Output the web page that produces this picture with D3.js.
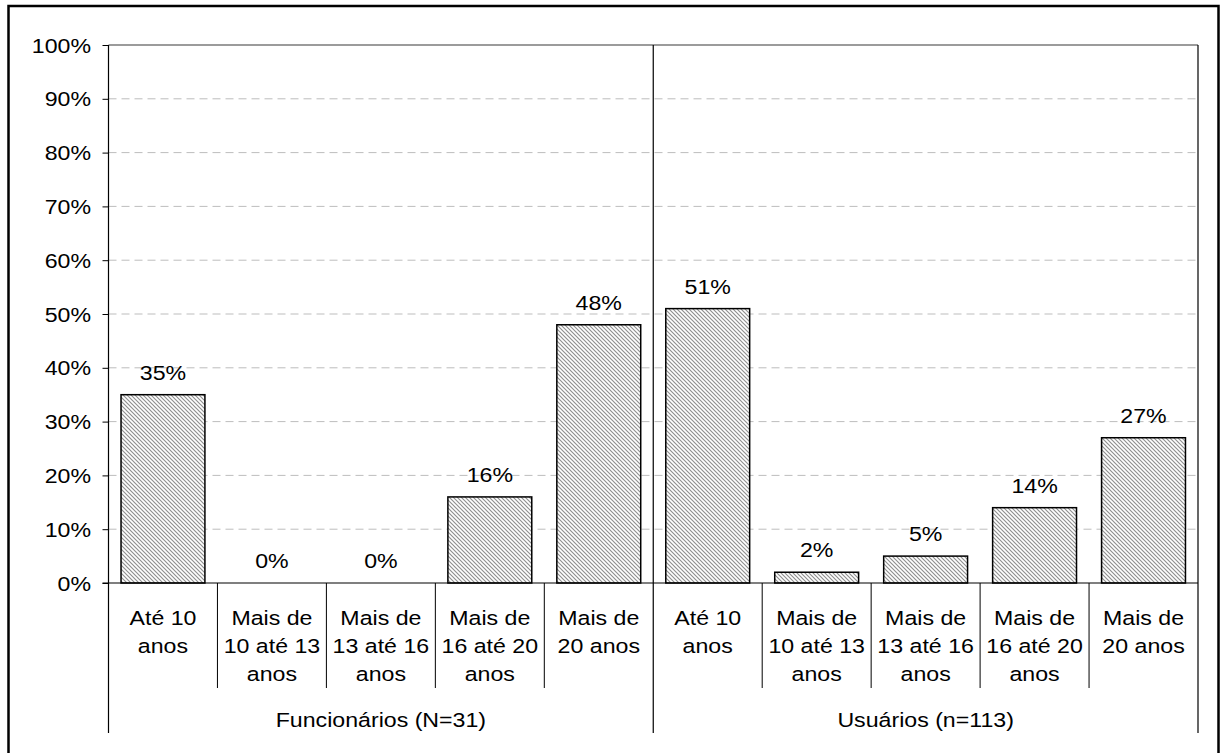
<!DOCTYPE html>
<html>
<head>
<meta charset="utf-8">
<script src="https://cdn.jsdelivr.net/npm/d3@7"></script>
<style>
  html, body { margin: 0; padding: 0; background: #fff; }
  svg { display: block; }
  text { font-family: "Liberation Sans", Arial, sans-serif; fill: #000; }
</style>
</head>
<body>
<svg id="chart" width="1220" height="753"></svg>
<script>
// Tempo de serviço, percentual por faixa, para cada grupo
const groups = ["Funcionários (N=31)", "Usuários (n=113)"];
const categoryLines = [
  ["Até 10", "anos"],
  ["Mais de", "10 até 13", "anos"],
  ["Mais de", "13 até 16", "anos"],
  ["Mais de", "16 até 20", "anos"],
  ["Mais de", "20 anos"]
];
const funcionarios = [35, 0, 0, 16, 48];
const usuarios = [51, 2, 5, 14, 27];
const yTicks = [0, 10, 20, 30, 40, 50, 60, 70, 80, 90, 100];

// flatten into one row per bar
const rows = [];
[funcionarios, usuarios].forEach((vals, g) => {
  vals.forEach((v, i) => rows.push({ key: g + "-" + i, group: g, cat: i, value: v }));
});

const svg = d3.select("#chart");
const plotL = 108.5, plotR = 1198, plotT = 45, plotB = 583;
const fs = 20.5;  // label font size
const sx = 1.13;  // horizontal text stretch

const x = d3.scaleBand().domain(rows.map(d => d.key)).range([plotL, plotR]).paddingInner(0.23).paddingOuter(0.115);
const bandStep = (plotR - plotL) / rows.length;
const y = d3.scaleLinear().domain([0, 100]).range([plotB, plotT]);

// hatch fill
const defs = svg.append("defs");
const pat = defs.append("pattern").attr("id", "hatch").attr("patternUnits", "userSpaceOnUse")
  .attr("width", 4).attr("height", 4);
pat.append("rect").attr("width", 4).attr("height", 4).attr("fill", "#fff");
pat.append("path").attr("d", "M-1,-1 L5,5 M-1,3 L1,5 M3,-1 L5,1")
  .attr("stroke", "#8f8f8f").attr("stroke-width", 1.15);

// outer frame
svg.append("rect").attr("x", 8.5).attr("y", 6).attr("width", 1210).attr("height", 800)
  .attr("fill", "none").attr("stroke", "#000").attr("stroke-width", 2.5);

// gridlines
svg.append("g").selectAll("line").data(yTicks.filter(t => t > 0 && t < 100)).join("line")
  .attr("x1", plotL).attr("x2", plotR).attr("y1", d => y(d)).attr("y2", d => y(d))
  .attr("stroke", "#bdbdbd").attr("stroke-width", 1).attr("stroke-dasharray", "8,5");

// plot border top
svg.append("line").attr("x1", plotL).attr("x2", plotR).attr("y1", y(100)).attr("y2", y(100))
  .attr("stroke", "#7a7a7a").attr("stroke-width", 1.5);

// y axis
const yAxis = d3.axisLeft(y).tickValues(yTicks).tickFormat(d => d + "%").tickSize(6).tickPadding(0);
const ya = svg.append("g").attr("transform", `translate(${plotL},0)`).call(yAxis);
ya.select(".domain").remove();
ya.selectAll(".tick line").attr("stroke", "#000");
ya.selectAll(".tick text").remove();
svg.append("g").selectAll("text").data(yTicks).join("text")
  .attr("transform", d => `translate(91,${y(d) + 7.5}) scale(${sx},1)`)
  .attr("text-anchor", "end").attr("font-size", fs).text(d => d + "%");

// bars
svg.append("g").selectAll("rect").data(rows.filter(d => d.value > 0)).join("rect")
  .attr("x", d => x(d.key)).attr("width", x.bandwidth())
  .attr("y", d => y(d.value)).attr("height", d => y(0) - y(d.value))
  .attr("fill", "url(#hatch)").attr("stroke", "#000").attr("stroke-width", 1.5);

// value labels
svg.append("g").selectAll("text").data(rows).join("text")
  .attr("transform", d => `translate(${x(d.key) + x.bandwidth() / 2},${y(d.value) - 15}) scale(${sx},1)`)
  .attr("text-anchor", "middle").attr("font-size", fs).text(d => d.value + "%");

// x axis baseline
svg.append("line").attr("x1", plotL - 6).attr("x2", plotR).attr("y1", plotB).attr("y2", plotB)
  .attr("stroke", "#000").attr("stroke-width", 1.2);

// category separators
const inner = d3.range(1, rows.length).filter(i => i !== 5).map(i => plotL + i * bandStep);
svg.append("g").selectAll("line").data(inner).join("line")
  .attr("x1", d => d).attr("x2", d => d).attr("y1", plotB).attr("y2", 688)
  .attr("stroke", "#000").attr("stroke-width", 1);

// group separators (full height)
const outerX = [plotL, plotL + 5 * bandStep, plotR];
svg.append("g").selectAll("line").data(outerX).join("line")
  .attr("x1", d => d).attr("x2", d => d).attr("y1", plotT).attr("y2", 733)
  .attr("stroke", "#000").attr("stroke-width", 1.2);

// category labels
const catG = svg.append("g").selectAll("g").data(rows).join("g")
  .attr("transform", d => `translate(${x(d.key) + x.bandwidth() / 2},0)`);
catG.selectAll("text").data(d => categoryLines[d.cat]).join("text")
  .attr("transform", (d, i) => `translate(0,${624.5 + i * 28}) scale(${sx},1)`)
  .attr("text-anchor", "middle").attr("font-size", fs).text(d => d);

// group labels
svg.append("g").selectAll("text").data(groups).join("text")
  .attr("transform", (d, i) => `translate(${plotL + (i * 5 + 2.5) * bandStep},726.5) scale(${sx},1)`)
  .attr("text-anchor", "middle").attr("font-size", fs).text(d => d);
</script>
</body>
</html>
